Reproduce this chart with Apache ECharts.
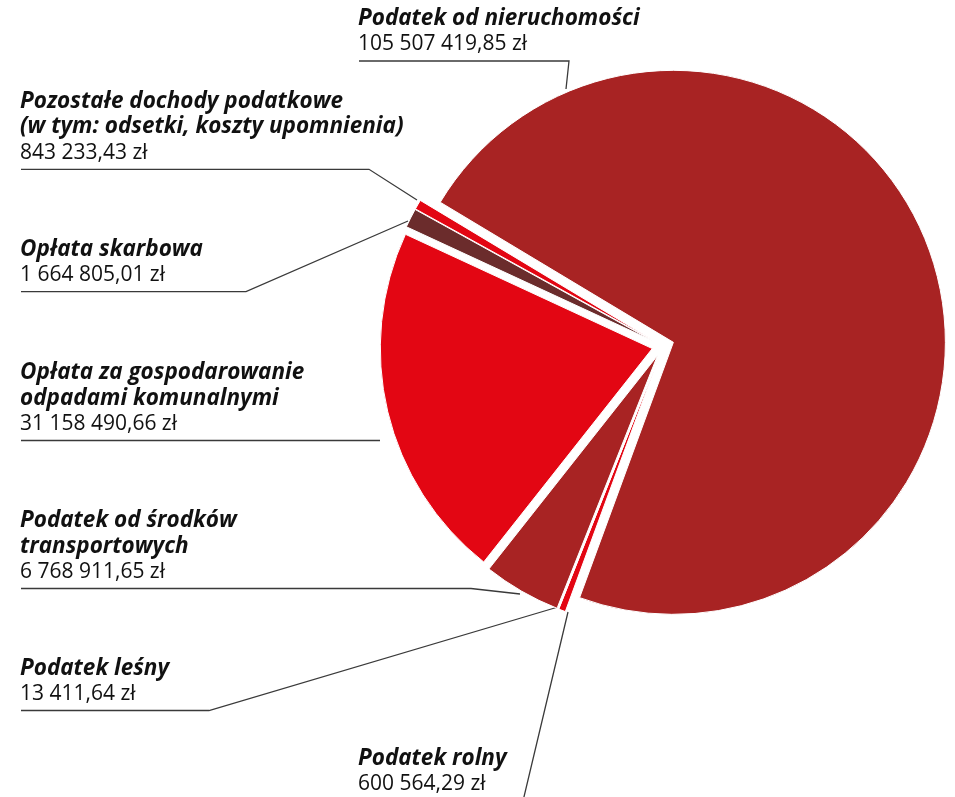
<!DOCTYPE html>
<html>
<head>
<meta charset="utf-8">
<script src="https://cdn.jsdelivr.net/npm/echarts@6/dist/echarts.min.js"></script>
<style>
  html, body { margin: 0; padding: 0; background: #fff; }
  #chart { width: 955px; height: 797px; }
</style>
</head>
<body>
<div id="chart"></div>
<script>
// dane
const categories = [
  'Podatek od nieruchomości',
  'Podatek rolny',
  'Podatek leśny',
  'Podatek od środków\ntransportowych',
  'Opłata za gospodarowanie\nodpadami komunalnymi',
  'Opłata skarbowa',
  'Pozostałe dochody podatkowe\n(w tym: odsetki, koszty upomnienia)'
];
const values = [105507419.85, 600564.29, 13411.64, 6768911.65, 31158490.66, 1664805.01, 843233.43];

// wyglad
const colors = ['#A82323', '#E30613', '#E30613', '#A82323', '#E30613', '#6B2C2C', '#E30613'];
const FONT = 'Open Sans';
const LH = 25.5;
// pozycje etykiet: x tekstu, y podkreslenia, koniec podkreslenia, punkt przy wycinku
const spots = [
  { x: 358, lineY: 61, lineEnd: 569, tip: [566, 89] },
  { x: 358, lineY: 801, lineEnd: 523, tip: [568, 612] },
  { x: 20, lineY: 710.5, lineEnd: 209, tip: [558, 607] },
  { x: 20, lineY: 588.5, lineEnd: 471, tip: [520, 594] },
  { x: 20, lineY: 440.5, lineEnd: 380, tip: null },
  { x: 20, lineY: 291.7, lineEnd: 246, tip: [408, 221] },
  { x: 20, lineY: 169.3, lineEnd: 369, tip: [417, 200] }
];

function fmt(v) {
  const parts = v.toFixed(2).split('.');
  return parts[0].replace(/\B(?=(\d{3})+(?!\d))/g, ' ') + ',' + parts[1] + ' zł';
}

const graphics = [];
categories.forEach((name, i) => {
  const s = spots[i];
  const lines = name.split('\n');
  const pts = [[s.x + 1, s.lineY], [s.lineEnd, s.lineY]];
  if (s.tip) pts.push(s.tip);
  graphics.push({
    type: 'polyline',
    silent: true,
    shape: { points: pts },
    style: { stroke: '#3a3a3a', lineWidth: 1.3, fill: null }
  });
  graphics.push({
    type: 'text',
    silent: true,
    x: s.x,
    y: s.lineY - 4 - (lines.length + 1) * LH,
    style: {
      text: lines.map(l => '{n|' + l + '}').join('\n') + '\n{v|' + fmt(values[i]) + '}',
      textVerticalAlign: 'top',
      rich: {
        n: { fontFamily: FONT, fontSize: 22.5, fontWeight: 'bold', fontStyle: 'italic', lineHeight: LH, fill: '#111' },
        v: { fontFamily: FONT, fontSize: 21, lineHeight: LH, fill: '#111' }
      }
    }
  });
});

const chart = echarts.init(document.getElementById('chart'));
chart.setOption({
  animation: false,
  graphic: graphics,
  series: [{
    type: 'pie',
    center: [663, 346],
    radius: 272,
    startAngle: 149,
    clockwise: true,
    selectedMode: 'multiple',
    selectedOffset: 11,
    emphasis: { disabled: true },
    itemStyle: { borderColor: '#fff', borderWidth: 1 },
    label: { show: false },
    labelLine: { show: false },
    data: categories.map((c, i) => ({
      name: c,
      value: values[i],
      selected: true,
      itemStyle: { color: colors[i] }
    }))
  }]
});
</script>
</body>
</html>
